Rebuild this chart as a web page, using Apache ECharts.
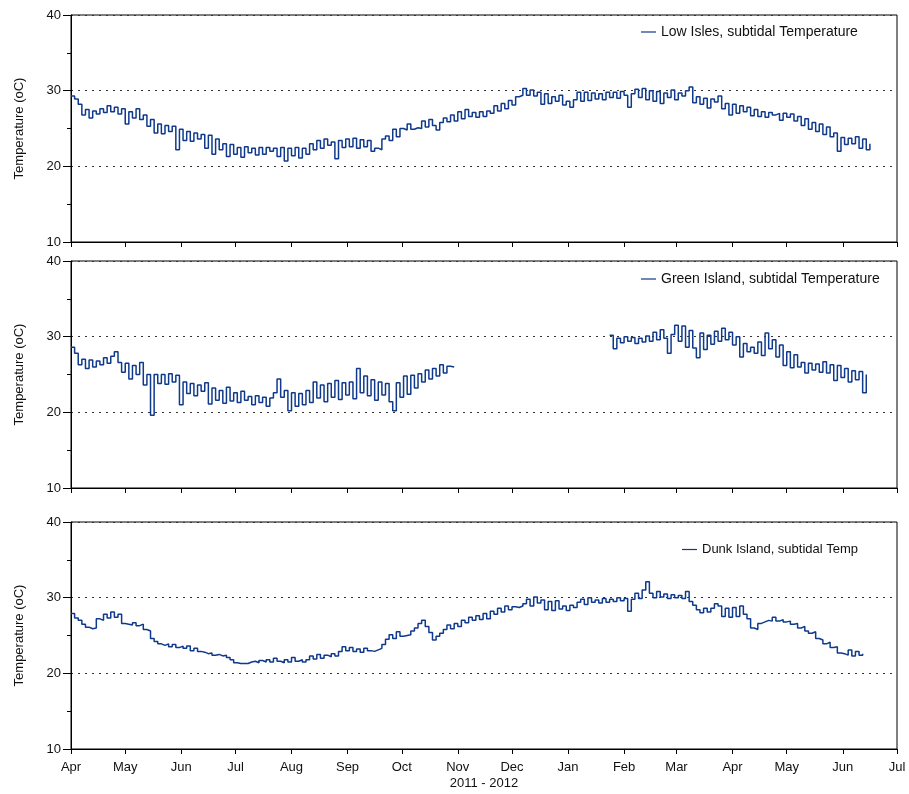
<!DOCTYPE html>
<html>
<head>
<meta charset="utf-8">
<script src="https://cdn.jsdelivr.net/npm/echarts@6/dist/echarts.min.js"></script>
<style>
  html, body { margin: 0; padding: 0; background: #fff; }
  #chart { width: 909px; height: 794px; }
</style>
</head>
<body>
<div id="chart"></div>
<script>
// readings every 2 days from 1 Apr 2011
var stepDays = 2
var monthLabels = ['Apr', 'May', 'Jun', 'Jul', 'Aug', 'Sep', 'Oct', 'Nov', 'Dec', 'Jan', 'Feb', 'Mar', 'Apr', 'May', 'Jun', 'Jul']
var yTicks = [10, 20, 30, 40]
var seriesNames = ['Low Isles, subtidal Temperature', 'Green Island, subtidal Temperature', 'Dunk Island, subtidal Temp']

var lowIsles = [
  29.3, 28.9, 28.2, 26.8, 27.5, 26.4, 27.3, 26.9, 27.6, 27.1, 28.0, 27.2, 27.8, 26.9, 27.6, 25.6,
  27.2, 26.4, 27.6, 26.2, 26.8, 25.3, 26.2, 24.4, 25.6, 24.3, 25.4, 24.6, 25.3, 22.2, 24.9, 23.4,
  24.6, 23.3, 24.4, 23.6, 24.2, 22.4, 24.1, 21.6, 23.6, 22.2, 23.0, 21.3, 22.9, 21.6, 22.5, 21.2,
  22.6, 21.8, 22.4, 21.5, 22.5, 21.6, 22.5, 22.0, 22.4, 21.3, 22.5, 20.7, 22.4, 21.4, 22.5, 21.1,
  22.4, 21.6, 23.0, 22.2, 23.4, 22.4, 23.6, 22.8, 23.2, 21.0, 23.4, 22.5, 23.6, 22.6, 23.7, 22.4,
  23.5, 22.6, 23.4, 22.0, 22.4, 22.2, 23.6, 24.0, 23.4, 24.9, 23.9, 25.0, 24.8, 25.6, 24.9, 25.1,
  25.0, 26.0, 25.2, 26.2, 25.4, 24.8, 25.8, 26.4, 25.9, 26.8, 26.0, 27.2, 26.3, 27.5, 26.6, 27.1,
  26.5, 27.2, 26.6, 27.3, 27.0, 28.0, 27.3, 28.3, 27.6, 28.7, 28.1, 29.2, 29.4, 30.3, 29.4, 30.1,
  29.3, 29.8, 28.2, 29.6, 28.3, 29.2, 28.6, 29.4, 28.1, 28.6, 27.8, 28.8, 29.8, 28.6, 29.8, 28.7,
  29.7, 28.9, 29.6, 28.8, 29.8, 29.1, 29.8, 29.0, 29.9, 29.4, 27.8, 29.6, 30.2, 29.1, 30.3, 28.8,
  30.0, 28.6, 29.9, 28.3, 29.7, 29.1, 30.1, 28.8, 29.7, 29.3, 30.0, 30.5, 28.4, 29.2, 28.2, 29.0,
  27.7, 28.9, 28.5, 29.3, 27.6, 28.3, 26.8, 28.2, 27.0, 28.0, 27.2, 27.8, 26.7, 27.5, 26.6, 27.2,
  26.5, 27.1, 26.8, 27.0, 26.1, 27.0, 26.5, 26.9, 26.0, 26.6, 25.4, 26.3, 24.9, 25.8, 24.6, 25.6,
  24.2, 25.2, 23.9, 24.4, 22.0, 23.8, 22.9, 23.7, 23.0, 23.9, 22.4, 23.6, 22.2, 23.0
]

var greenIsland = [
  28.6, 27.8, 26.3, 27.0, 25.8, 26.9, 26.0, 26.8, 26.3, 27.2, 26.5, 27.4, 28.0, 26.6, 25.3, 26.5,
  24.4, 26.2, 25.0, 26.6, 23.6, 25.0, 19.6, 25.0, 23.8, 25.0, 23.7, 25.1, 24.0, 24.9, 21.0, 24.0,
  22.5, 23.8, 22.2, 23.6, 22.8, 23.9, 21.1, 23.2, 21.6, 22.9, 21.2, 23.3, 21.5, 22.6, 21.3, 22.8,
  21.6, 22.1, 21.0, 22.2, 21.3, 22.0, 20.8, 21.9, 22.6, 24.4, 22.0, 22.9, 20.2, 22.6, 20.8, 22.5,
  21.0, 22.9, 21.3, 24.0, 21.9, 23.6, 21.4, 23.8, 22.0, 24.2, 21.7, 23.9, 22.3, 24.0, 21.8, 25.8,
  22.6, 24.8, 22.2, 24.3, 21.6, 24.0, 22.3, 23.8, 21.4, 20.2, 23.9, 22.0, 24.8, 22.4, 24.9, 23.2,
  25.1, 24.0, 25.6, 24.4, 25.8, 24.8, 26.3, 25.2, 26.1, 26.0,
  null, null, null, null, null, null, null, null, null, null, null, null, null, null, null,
  null, null, null, null, null, null, null, null, null, null, null, null, null, null, null,
  null, null, null, null, null, null, null, null, null, null, null, null, null,
  30.2, 28.4, 29.8, 29.2, 30.0, 29.4, 29.9, 29.1, 29.8, 29.3, 30.1, 29.4, 30.6, 29.6, 30.9, 29.8,
  27.8, 30.3, 31.5, 29.4, 31.4, 28.6, 30.8, 28.5, 27.2, 30.5, 28.3, 30.2, 29.0, 30.7, 29.4, 31.1,
  29.6, 30.6, 28.9, 30.0, 27.3, 29.1, 28.0, 28.6, 27.8, 29.3, 27.5, 30.5, 28.4, 29.6, 27.3, 28.9,
  26.2, 28.0, 25.9, 27.6, 26.0, 26.6, 25.2, 26.5, 25.6, 26.4, 25.3, 26.7, 25.2, 26.3, 24.2, 26.2,
  24.6, 25.8, 24.0, 25.5, 24.3, 25.4, 22.6, 25.0
]

var dunkIsland = [
  27.9, 27.3, 27.0, 26.5, 26.1, 25.9, 26.0, 27.2, 27.0, 27.8, 27.3, 28.1, 27.4, 27.8, 26.6, 26.5,
  26.4, 26.7, 26.3, 26.5, 25.8, 25.6, 24.6, 24.2, 23.9, 23.7, 23.9, 23.5, 23.8, 23.4, 23.6, 23.3,
  23.6, 23.0, 23.3, 22.9, 22.8, 22.6, 22.7, 22.4, 22.5, 22.3, 22.4, 22.1, 21.8, 21.4, 21.3, 21.3,
  21.3, 21.5, 21.6, 21.4, 21.7, 21.5, 21.8, 21.5, 22.0, 21.6, 21.4, 21.8, 21.5, 22.1, 21.6, 21.8,
  21.5, 21.8, 22.3, 21.9, 22.5, 22.0, 22.4, 22.2, 22.6, 22.3, 22.9, 23.5, 23.0, 23.4, 22.9, 23.2,
  22.8, 23.3, 23.0, 22.9, 23.1, 23.3, 23.8, 24.5, 25.1, 24.6, 25.5, 24.9, 25.0, 25.1, 25.6, 26.0,
  26.6, 27.0, 26.2, 25.4, 24.4, 24.9, 25.3, 25.8, 26.4, 25.9, 26.6, 26.2, 27.0, 26.7, 27.4, 27.0,
  27.6, 27.1, 27.9, 27.2, 28.2, 27.8, 28.6, 28.1, 28.9, 28.4, 28.8, 28.7, 28.9, 29.2, 29.8, 28.9,
  30.1, 29.3, 29.7, 28.4, 29.5, 28.3, 29.6, 28.5, 28.9, 28.3, 29.0, 28.7, 29.4, 29.8, 29.1, 30.0,
  29.4, 29.7, 29.3, 29.9, 29.4, 29.8, 29.5, 30.0, 29.6, 29.9, 28.2, 29.8, 30.6, 29.9, 31.0, 32.1,
  30.6, 30.0, 30.8, 30.1, 30.5, 29.9, 30.4, 30.0, 30.3, 29.9, 30.8, 29.5, 29.0, 28.4, 28.0, 28.6,
  28.1, 28.6, 29.2, 28.9, 27.5, 28.6, 27.4, 28.7, 27.5, 28.9, 27.8, 27.2, 26.0, 25.8, 26.6, 26.8,
  27.0, 26.9, 27.4, 26.9, 27.1, 26.8, 26.9, 26.5, 26.6, 26.0, 26.2, 25.6, 25.3, 25.5, 24.6, 24.4,
  23.9, 24.1, 23.4, 23.5, 22.7, 22.6, 22.4, 23.1, 22.3, 22.9, 22.4, 22.6
]

var panels = [lowIsles, greenIsland, dunkIsland]

function toPoints(values) {
  return values.map(function (v, i) {
    return [new Date(2011, 3, 1 + i * stepDays).getTime(), v]
  })
}

var monthTicks = monthLabels.map(function (m, k) {
  return new Date(2011, 3 + k, 1).getTime()
})

var fontFamily = 'Liberation Sans, Arial, sans-serif'
var gridTops = [15, 261, 522]
var gridHeight = 227
var legendLefts = [636, 636, 677]
var legendTops = [20, 267, 538]
var legendFontSizes = [14, 14, 13]

var grid = [], xAxis = [], yAxis = [], series = [], legend = []

panels.forEach(function (values, p) {
  var isLast = p === panels.length - 1
  grid.push({
    left: 71,
    width: 826,
    top: gridTops[p],
    height: gridHeight,
    show: true,
    borderColor: '#000',
    borderWidth: 1,
    backgroundColor: 'transparent'
  })
  xAxis.push({
    type: 'value',
    gridIndex: p,
    min: monthTicks[0],
    max: monthTicks[monthTicks.length - 1],
    axisLine: { show: true, lineStyle: { color: '#000', width: 1 } },
    axisTick: { show: true, length: 5, customValues: monthTicks, lineStyle: { color: '#000' } },
    splitLine: { show: false },
    axisLabel: {
      show: isLast,
      customValues: monthTicks,
      color: '#111',
      fontSize: 13,
      fontFamily: fontFamily,
      margin: 12,
      showMinLabel: true,
      showMaxLabel: true,
      formatter: function (val) {
        var idx = monthTicks.indexOf(val)
        return idx >= 0 ? monthLabels[idx] : ''
      }
    },
    name: isLast ? '2011 - 2012' : '',
    nameLocation: 'middle',
    nameGap: 28,
    nameTextStyle: { color: '#111', fontSize: 13, fontFamily: fontFamily }
  })
  yAxis.push({
    type: 'value',
    gridIndex: p,
    min: yTicks[0],
    max: yTicks[yTicks.length - 1],
    interval: 10,
    axisLine: { show: true, lineStyle: { color: '#000', width: 1 } },
    axisTick: { show: true, length: 8, lineStyle: { color: '#000' } },
    minorTick: { show: true, splitNumber: 2, length: 4, lineStyle: { color: '#000' } },
    splitLine: {
      show: true,
      lineStyle: { color: '#333', type: [2, 5], width: 1 }
    },
    axisLabel: { color: '#111', fontSize: 13, fontFamily: fontFamily, margin: 10 },
    name: 'Temperature (oC)',
    nameLocation: 'middle',
    nameGap: 45,
    nameTextStyle: { color: '#111', fontSize: 13, fontFamily: fontFamily }
  })
  series.push({
    name: seriesNames[p],
    type: 'line',
    xAxisIndex: p,
    yAxisIndex: p,
    step: 'end',
    showSymbol: false,
    connectNulls: false,
    lineStyle: { color: '#0f3a8c', width: 1.5 },
    itemStyle: { color: '#0f3a8c' },
    data: toPoints(values)
  })
  legend.push({
    data: [seriesNames[p]],
    left: legendLefts[p],
    top: legendTops[p],
    icon: 'rect',
    itemWidth: 15,
    itemHeight: 1.2,
    itemGap: 6,
    textStyle: { color: '#111', fontSize: legendFontSizes[p], fontFamily: fontFamily },
    selectedMode: false
  })
})

var myChart = echarts.init(document.getElementById('chart'))
myChart.setOption({
  animation: false,
  backgroundColor: '#fff',
  grid: grid,
  xAxis: xAxis,
  yAxis: yAxis,
  legend: legend,
  series: series
})
</script>
</body>
</html>
